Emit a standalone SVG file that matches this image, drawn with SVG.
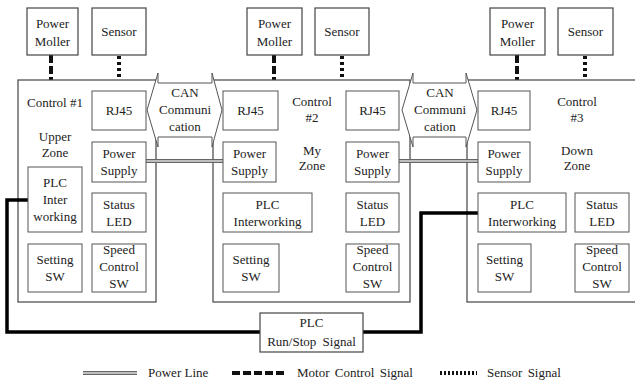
<svg xmlns="http://www.w3.org/2000/svg" width="635" height="380" viewBox="0 0 635 380">
<style>
.b{fill:#fff;stroke:#444;stroke-width:1.2}
.c{fill:#fff;stroke:#555;stroke-width:1}
text{font-family:"Liberation Serif","Times New Roman",serif;font-size:13px;fill:#222;text-anchor:middle}
.mc{stroke:#111;stroke-width:4;stroke-dasharray:8,3;fill:none}
.ss{stroke:#111;stroke-width:4;stroke-dasharray:3,3;fill:none}
.pl1{stroke:#666;stroke-width:4;fill:none}
.pl2{stroke:#ddd;stroke-width:1.4;fill:none}
.plc{stroke:#000;stroke-width:3.5;fill:none}
</style>
<rect width="635" height="380" fill="#fff"/>

<g id="connectors">
<line class="mc" x1="51" y1="55" x2="51" y2="80"/>
<line class="ss" x1="119" y1="56" x2="119" y2="80"/>
<line class="mc" x1="274" y1="55" x2="274" y2="80"/>
<line class="ss" x1="342" y1="56" x2="342" y2="80"/>
<line class="mc" x1="517" y1="55" x2="517" y2="80"/>
<line class="ss" x1="585" y1="56" x2="585" y2="80"/>
</g>

<g id="control1">
<rect class="b" x="18" y="80" width="138" height="222"/>
<text x="55" y="107">Control #1</text>
<text x="55" y="141">Upper</text>
<text x="55" y="157">Zone</text>
</g>
<g id="control2">
<rect class="b" x="213" y="80" width="197" height="222"/>
<text x="312" y="106">Control</text>
<text x="312" y="122">#2</text>
<text x="312" y="155">My</text>
<text x="312" y="170">Zone</text>
</g>
<g id="control3">
<rect class="b" x="467" y="80" width="180" height="222"/>
<text x="577" y="106">Control</text>
<text x="577" y="122">#3</text>
<text x="577" y="155">Down</text>
<text x="577" y="170">Zone</text>
</g>

<g id="power-lines">
<line class="pl1" x1="146" y1="161" x2="223" y2="161"/>
<line class="pl2" x1="146" y1="161" x2="223" y2="161"/>
<line class="pl1" x1="399" y1="161" x2="478" y2="161"/>
<line class="pl2" x1="399" y1="161" x2="478" y2="161"/>
</g>

<g id="plc-signal">
<polyline class="plc" points="28,200 7,200 7,332 260,332"/>
<polyline class="plc" points="363,332 421,332 421,213 478,213"/>
</g>

<g id="pm1"><rect class="b" x="27" y="8" width="51" height="47"/><text x="52.5" y="28">Power</text><text x="52.5" y="46">Moller</text></g>
<g id="sensor1"><rect class="b" x="92" y="8" width="54" height="47"/><text x="119" y="36">Sensor</text></g>
<g id="pm2"><rect class="b" x="247" y="8" width="55" height="47"/><text x="274.5" y="28">Power</text><text x="274.5" y="46">Moller</text></g>
<g id="sensor2"><rect class="b" x="315" y="8" width="54" height="47"/><text x="342" y="36">Sensor</text></g>
<g id="pm3"><rect class="b" x="490" y="8" width="55" height="47"/><text x="517.5" y="28">Power</text><text x="517.5" y="46">Moller</text></g>
<g id="sensor3"><rect class="b" x="558" y="8" width="55" height="47"/><text x="585.5" y="36">Sensor</text></g>

<g id="c1-rj45"><rect class="c" x="92" y="91" width="54" height="39"/><text x="119" y="115">RJ45</text></g>
<g id="c1-ps"><rect class="c" x="92" y="142" width="54" height="40"/><text x="119" y="158">Power</text><text x="119" y="175">Supply</text></g>
<g id="c1-plc"><rect class="c" x="28" y="167" width="54" height="65"/><text x="55" y="187">PLC</text><text x="55" y="204">Inter</text><text x="55" y="221">working</text></g>
<g id="c1-led"><rect class="c" x="92" y="193" width="54" height="39"/><text x="119" y="209">Status</text><text x="119" y="226">LED</text></g>
<g id="c1-set"><rect class="c" x="28" y="244" width="54" height="48"/><text x="55" y="264">Setting</text><text x="55" y="281">SW</text></g>
<g id="c1-speed"><rect class="c" x="92" y="244" width="54" height="48"/><text x="119" y="254">Speed</text><text x="119" y="271">Control</text><text x="119" y="288">SW</text></g>

<g id="c2-rj45a"><rect class="c" x="223" y="91" width="55" height="39"/><text x="250.5" y="115">RJ45</text></g>
<g id="c2-rj45b"><rect class="c" x="346" y="91" width="53" height="39"/><text x="372.5" y="115">RJ45</text></g>
<g id="c2-psa"><rect class="c" x="223" y="142" width="53" height="40"/><text x="249.5" y="158">Power</text><text x="249.5" y="175">Supply</text></g>
<g id="c2-psb"><rect class="c" x="346" y="142" width="53" height="40"/><text x="372.5" y="158">Power</text><text x="372.5" y="175">Supply</text></g>
<g id="c2-plc"><rect class="c" x="223" y="193" width="89" height="39"/><text x="267.5" y="209">PLC</text><text x="267.5" y="226">Interworking</text></g>
<g id="c2-led"><rect class="c" x="346" y="193" width="53" height="39"/><text x="372.5" y="209">Status</text><text x="372.5" y="226">LED</text></g>
<g id="c2-set"><rect class="c" x="223" y="244" width="56" height="48"/><text x="251" y="264">Setting</text><text x="251" y="281">SW</text></g>
<g id="c2-speed"><rect class="c" x="346" y="244" width="53" height="48"/><text x="372.5" y="254">Speed</text><text x="372.5" y="271">Control</text><text x="372.5" y="288">SW</text></g>

<g id="c3-rj45"><rect class="c" x="478" y="91" width="52" height="39"/><text x="504" y="115">RJ45</text></g>
<g id="c3-ps"><rect class="c" x="478" y="142" width="52" height="40"/><text x="504" y="158">Power</text><text x="504" y="175">Supply</text></g>
<g id="c3-plc"><rect class="c" x="478" y="193" width="88" height="39"/><text x="522" y="209">PLC</text><text x="522" y="226">Interworking</text></g>
<g id="c3-led"><rect class="c" x="575" y="193" width="54" height="39"/><text x="602" y="209">Status</text><text x="602" y="226">LED</text></g>
<g id="c3-set"><rect class="c" x="478" y="244" width="53" height="48"/><text x="504.5" y="264">Setting</text><text x="504.5" y="281">SW</text></g>
<g id="c3-speed"><rect class="c" x="575" y="244" width="54" height="48"/><text x="602" y="254">Speed</text><text x="602" y="271">Control</text><text x="602" y="288">SW</text></g>

<g id="can1">
<path class="c" d="M158,73 L158,83 L212,83 L212,73 L222,110 L212,147 L212,137 L158,137 L158,147 L147,110 Z"/>
<text x="185" y="97">CAN</text><text x="185" y="114">Communi</text><text x="185" y="131">cation</text>
</g>
<g id="can2">
<path class="c" d="M413,73 L413,83 L466,83 L466,73 L477,110 L466,147 L466,137 L413,137 L413,147 L402,110 Z"/>
<text x="440" y="97">CAN</text><text x="440" y="114">Communi</text><text x="440" y="131">cation</text>
</g>

<g id="plc-runstop">
<rect class="b" x="260" y="313" width="103" height="39"/>
<text x="311.5" y="327">PLC</text>
<text x="311.5" y="346" word-spacing="3">Run/Stop Signal</text>
</g>

<g id="legend">
<line class="pl1" x1="83" y1="373" x2="137" y2="373"/>
<line class="pl2" x1="83" y1="373" x2="137" y2="373"/>
<text x="148" y="377" style="text-anchor:start">Power Line</text>
<line stroke="#111" stroke-width="4" stroke-dasharray="8,3" stroke-dashoffset="9" x1="230" y1="373" x2="287" y2="373"/>
<text x="297" y="377" style="text-anchor:start" word-spacing="2">Motor Control Signal</text>
<line stroke="#111" stroke-width="4" stroke-dasharray="2,2" x1="440" y1="373" x2="477" y2="373"/>
<text x="487" y="377" style="text-anchor:start" word-spacing="2">Sensor Signal</text>
</g>
</svg>
